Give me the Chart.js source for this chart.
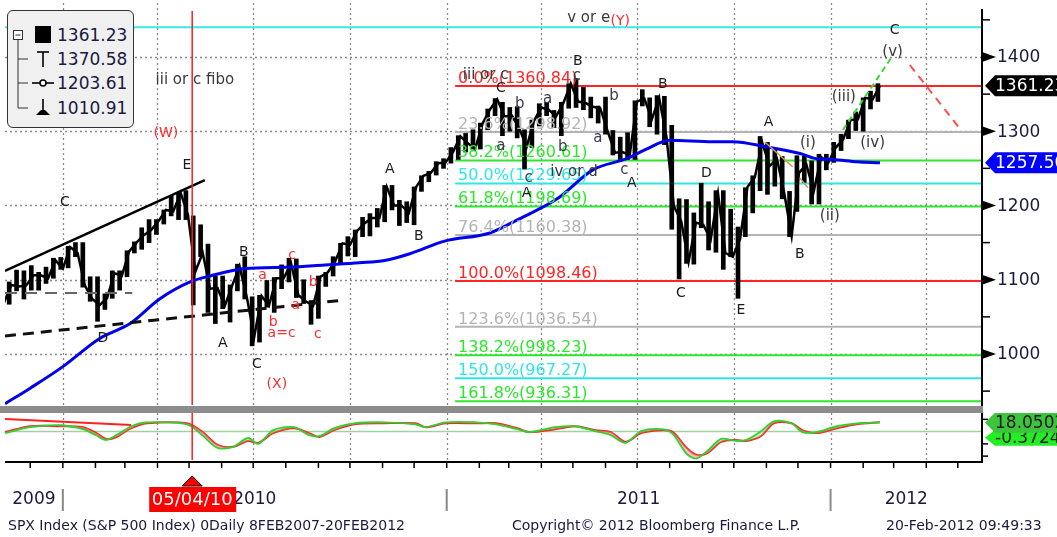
<!DOCTYPE html>
<html>
<head>
<meta charset="utf-8">
<script src="https://cdn.jsdelivr.net/npm/chart.js@4"></script>
<style>
body{margin:0;background:#fff;width:1057px;height:537px;overflow:hidden;position:relative;font-family:"DejaVu Sans",sans-serif;color:#1a1a40}
#top{position:absolute;left:0;top:0}
#bot{position:absolute;left:0;top:413px}
#band{position:absolute;left:0;top:406px;width:983px;height:7px;background:#8c8c8c}
.ft{position:absolute;top:517px;font-size:14px;line-height:16px;white-space:nowrap}
#legend{position:absolute;left:7px;top:10px;width:125px;height:116px;background:#f0f0f0;border:1.5px solid #333;border-radius:6px}
#legend span{position:absolute;left:49px;font-size:17px;line-height:20px}
</style>
</head>
<body>
<canvas id="top" width="1057" height="406"></canvas>
<div id="band"></div>
<canvas id="bot" width="1057" height="124"></canvas>

<div id="legend">
  <svg width="125" height="116" style="position:absolute;left:0;top:0">
    <g stroke="#333" stroke-width="1" fill="none">
      <rect x="5.5" y="19.5" width="9" height="9" fill="#fff"/>
      <line x1="7.5" y1="24" x2="12.5" y2="24"/>
      <line x1="10" y1="29" x2="10" y2="97"/>
      <line x1="10" y1="48" x2="20" y2="48"/>
      <line x1="10" y1="72" x2="20" y2="72"/>
      <line x1="10" y1="97" x2="20" y2="97"/>
    </g>
    <rect x="27" y="15" width="16" height="17" fill="#000"/>
    <g stroke="#000" stroke-width="1.6">
      <line x1="29" y1="41" x2="41" y2="41"/>
      <line x1="35" y1="41" x2="35" y2="56"/>
      <line x1="24" y1="72" x2="46" y2="72"/>
      <line x1="35" y1="88" x2="35" y2="101"/>
    </g>
    <circle cx="35" cy="72" r="3" fill="#fff" stroke="#000" stroke-width="1.5"/>
    <path d="M28 104 L42 104 L37 99 L33 99 Z" fill="#000"/>
  </svg>
  <span id="lg0" style="top:14px"></span>
  <span id="lg1" style="top:38px"></span>
  <span id="lg2" style="top:62px"></span>
  <span id="lg3" style="top:87px"></span>
</div>

<div class="ft" style="left:8px">SPX Index (S&amp;P 500 Index) 0Daily 8FEB2007-20FEB2012</div>
<div class="ft" style="left:512px">Copyright© 2012 Bloomberg Finance L.P.</div>
<div class="ft" style="left:886px">20-Feb-2012 09:49:33</div>

<script>
// weekly SPX, first week ending 6 Nov 2009, last 17 Feb 2012
const weekHigh = [
  1072,1097,1113,1112,1119,1110,1117,1129,1130,
  1145,1150,1150,1104,1104,1081,1112,1112,1139,1151,1170,1181,1181,1194,1213,1217,1220,1186,1174,1148,
  1105,1105,1093,1121,1131,1077,1079,1099,1103,1120,1129,1128,1100,1072,1105,1110,1131,1149,1158,1167,
  1184,1189,1196,1227,1227,1207,1205,1225,1240,1246,1259,1263,
  1278,1294,1297,1302,1311,1330,1344,1339,1332,1333,1302,1315,1337,1339,1328,1339,1364,1371,1359,1346,
  1334,1346,1301,1292,1298,1341,1356,1345,1348,1347,1308,1209,1208,1190,1230,1205,1220,1220,1195,1171,
  1224,1240,1293,1285,1277,1266,1219,1267,1267,1260,1269,1269,
  1285,1296,1315,1326,1345,1354,1364
];
const weekLow = [
  1029,1067,1085,1074,1086,1086,1095,1102,1114,
  1116,1131,1090,1071,1044,1060,1075,1086,1104,1136,1141,1150,1161,1175,1186,1181,1181,1066,1131,1056,
  1041,1061,1043,1085,1074,1011,1016,1063,1056,1088,1097,1076,1068,1040,1048,1091,1105,1122,1132,1131,
  1158,1159,1171,1178,1194,1173,1177,1174,1219,1232,1241,1250,
  1257,1262,1272,1276,1276,1302,1321,1294,1300,1291,1249,1278,1307,1321,1305,1294,1331,1332,1329,1318,
  1311,1296,1268,1262,1262,1262,1334,1306,1296,1282,1168,1101,1122,1121,1170,1140,1137,1114,1131,1075,
  1158,1190,1220,1215,1226,1209,1158,1192,1231,1202,1202,1248,
  1258,1274,1290,1301,1300,1330,1340
];
const weekClose = [
  1069,1093,1091,1092,1106,1106,1102,1126,1115,
  1144,1136,1092,1074,1066,1075,1109,1105,1138,1150,1160,1167,1179,1194,1192,1217,1187,1111,1136,1088,
  1089,1065,1092,1118,1076,1023,1078,1065,1102,1102,1122,1079,1071,1065,1104,1110,1125,1149,1147,1166,
  1176,1183,1183,1225,1200,1200,1190,1225,1240,1244,1257,1258,
  1272,1293,1284,1276,1310,1329,1343,1320,1321,1304,1279,1314,1332,1329,1320,1338,1364,1340,1338,1333,
  1331,1300,1271,1272,1268,1340,1344,1316,1345,1292,1199,1179,1124,1177,1174,1154,1216,1136,1131,1155,
  1225,1238,1285,1253,1263,1216,1159,1244,1255,1219,1265,1258,
  1278,1289,1315,1316,1345,1343,1361.23
];
const firstWeekEnd = '2009-11-06';

// 200 day moving average (days from 1 Jan 2010)
const maDays   = [-55,-31,0,35,64,92,121,140,173,216,249,282,306,330,363,406,434,470,504,536,555,577,618,637,669,701,717,732,755,777];
const maValues = [933,954,983,1021,1041,1074,1097,1105,1115,1117,1120,1123,1126,1135,1152,1163,1182,1209,1248,1263,1276,1288,1286,1286,1279,1270,1263,1262,1259,1257.5];

// fibonacci retracement
const fibPct    = ['0.0%','23.6%','38.2%','50.0%','61.8%','76.4%','100.0%','123.6%','138.2%','150.0%','161.8%'];
const fibLevels = [1360.84,1298.92,1260.61,1229.65,1198.69,1160.38,1098.46,1036.54,998.23,967.27,936.31];
const fibColors = ['#ff2424','#b4b4b4','#2ee62e','#2ee6e6','#2ee62e','#b4b4b4','#ff2424','#b4b4b4','#2ee62e','#2ee6e6','#2ee62e'];
const topLevel = 1440;

// oscillator panel
const oscDays   = [-55,-31,-2,19,32,41,51,65,80,118,133,147,162,176,186,200,220,234,244,258,277,306,335,345,364,393,412,432,444,468,487,506,521,535,550,569,580,593,602,612,626,640,650,664,676,693,703,717,736,755,777];
const oscFast   = [-3,9,13,5,-8,-17,-7,11,19,15,-8,-33,-31,-13,-25,3,9,-7,-9,7,17,19,15,9,19,19,15,5,-1,9,11,1,-7,-23,1,5,-5,-45,-55,-41,-15,-19,-17,1,21,17,-1,-1,11,17,19];
const oscSignal = [-1,11,11,9,-3,-15,-11,7,17,17,-1,-27,-31,-19,-23,-3,7,-3,-11,3,15,17,17,9,17,17,17,7,-1,5,11,3,-1,-21,-3,3,-1,-33,-47,-45,-21,-17,-19,-9,17,17,3,-3,7,15,19];
const oscLast = [18.0502, -0.3724];

const priceTicks = [1000,1100,1200,1300,1400];
const minorTicks = [950,1050,1150,1250,1350,1450];
const legendValues = ['1361.23','1370.58','1203.61','1010.91'];
const lastClose = 1361.23, lastMa = 1257.50;
const markerDate = '2010-05-04';
const quarterDates = ['2010-01-01','2010-04-01','2010-07-01','2010-10-01','2011-01-01','2011-04-01','2011-07-01','2011-10-01','2012-01-01','2012-04-01'];
const monthDates = ['2009-12-01','2010-01-01','2010-02-01','2010-03-01','2010-04-01','2010-05-01','2010-06-01','2010-07-01','2010-08-01','2010-09-01','2010-10-01','2010-11-01','2010-12-01',
  '2011-01-01','2011-02-01','2011-03-01','2011-04-01','2011-05-01','2011-06-01','2011-07-01','2011-08-01','2011-09-01','2011-10-01','2011-11-01','2011-12-01',
  '2012-01-01','2012-02-01','2012-03-01','2012-04-01','2012-05-01'];
const years = ['2009','2010','2011','2012'];

// wave labels [day, price, text]
const waveLabels = [
  [118,1254.5,'E'],[2,1204.7,'C'],[38,1021.5,'D'],[152,1014.8,'A'],[172,1137.4,'B'],[184.5,986.5,'C'],
  [311,1249,'A'],[338.5,1159,'B'],[416.5,1358,'C'],[489.7,1394.6,'B'],[570.5,1363.6,'B'],[441,1216.8,'A'],
  [541,1230.3,'A'],[612,1243.8,'D'],[587.6,1082,'C'],[644.7,1059.3,'E'],[671,1312.5,'A'],[700.8,1134.7,'B'],[791,1436.4,'C']
];
const subLabels = [
  [434.5,1336.7,'b'],[461,1343.4,'a'],[488.7,1374.4,'c'],[524,1347.5,'b'],[508.7,1291,'a'],
  [416.5,1280,'a'],[475.4,1278.8,'b'],[443,1237,'c'],[534,1247.8,'c']
];
const noteLabels = [
  [125.5,1369,'iii or c fibo'],[402,1375.8,'iii or c'],[500,1452.5,'v or e'],[486,1245,'iv or d'],
  [708.4,1284,'(i)'],[729.3,1186,'(ii)'],[742.6,1346,'(iii)'],[770,1284,'(iv)'],[789,1406.7,'(v)']
];
const redLabels = [
  [98,1297.6,'(W)'],[203.5,959.6,'(X)'],[530,1448.5,'(Y)'],[190,1106.4,'a'],[218,1133.3,'c'],
  [200,1043,'b'],[208,1028.3,'a=c'],[221.5,1066,'a'],[238,1097,'b'],[242.5,1027,'c']
];

// drawn lines [day, price]
const upperTrend = [[-55,1111.8],[135,1234.3]];
const lowerTrend = [[-55,1024.2],[268,1072.7]];
const shelfLine  = [[-55,1082],[66,1082]];
const projUp     = [[741.7,1301.7],[788.2,1400]];
const projDown   = [[805.4,1389.2],[854.8,1300.3]];
const minorTrend = [[667.5,1285.5],[694,1252],[697,null],[700.8,1237],[708.4,1224]];
const oscTrend   = [[-55,25.8],[65,13.5]];

const xMin = -55, xMax = 874, fibStart = 373;
const dayOf = s => (Date.parse(s) - Date.parse('2010-01-01')) / 864e5;
const pts = arr => arr.map(p => ({x: p[0], y: p[1]}));
const segment = (data, color, width, dash, order) => ({
  type: 'line', data: pts(data), borderColor: color, borderWidth: width,
  borderDash: dash || [], pointRadius: 0, order: order === undefined ? 0 : order
});

legendValues.forEach((v, i) => document.getElementById('lg' + i).textContent = v);

const weekDays = weekHigh.map((_, i) => dayOf(firstWeekEnd) + 7 * i);
const bars = weekDays.map((d, i) => ({x: d - 2, y: [weekLow[i], weekHigh[i]]}));
const closes = weekDays.map((d, i) => ({x: d, y: weekClose[i]}));

function line(ctx, x1, y1, x2, y2) { ctx.beginPath(); ctx.moveTo(x1, y1); ctx.lineTo(x2, y2); ctx.stroke(); }
function tag(ctx, tip, yc, h, fill, text, color) {
  ctx.fillStyle = fill;
  ctx.beginPath();
  ctx.moveTo(tip, yc); ctx.lineTo(tip + 10, yc - h / 2); ctx.lineTo(1060, yc - h / 2);
  ctx.lineTo(1060, yc + h / 2); ctx.lineTo(tip + 10, yc + h / 2); ctx.closePath(); ctx.fill();
  ctx.fillStyle = color; ctx.font = '17px "DejaVu Sans"'; ctx.textAlign = 'left'; ctx.textBaseline = 'middle';
  ctx.fillText(text, tip + 10, yc + 1);
}
function labels(ctx, x, y, list, color, font) {
  ctx.fillStyle = color; ctx.font = font; ctx.textAlign = 'center'; ctx.textBaseline = 'middle';
  list.forEach(([d, v, t]) => ctx.fillText(t, x.getPixelForValue(d), y.getPixelForValue(v)));
}

const topDecor = {
  id: 'topDecor',
  beforeDatasetsDraw(chart) {
    const {ctx, chartArea: a, scales: {x, y}} = chart;
    ctx.save();
    ctx.strokeStyle = '#8a8a8a'; ctx.lineWidth = 1.3; ctx.setLineDash([2, 3]);
    quarterDates.forEach(s => { const px = Math.round(x.getPixelForValue(dayOf(s))) + 0.5; line(ctx, px, a.top, px, a.bottom); });
    priceTicks.forEach(v => { const py = Math.round(y.getPixelForValue(v)) + 0.5; line(ctx, a.left, py, a.right, py); });
    ctx.restore();
  },
  afterDatasetsDraw(chart) {
    const {ctx, chartArea: a, scales: {x, y}} = chart;
    ctx.save();
    const mx = x.getPixelForValue(dayOf(markerDate));
    ctx.strokeStyle = '#ff1a1a'; ctx.lineWidth = 1.5; line(ctx, mx, a.top + 8, mx, a.bottom);

    ctx.font = '16px "DejaVu Sans"'; ctx.textAlign = 'left'; ctx.textBaseline = 'alphabetic';
    fibLevels.forEach((v, i) => {
      ctx.fillStyle = fibColors[i];
      ctx.fillText(fibPct[i] + '(' + v.toFixed(2) + ')', x.getPixelForValue(fibStart) + 3, y.getPixelForValue(v) - 3);
    });
    labels(ctx, x, y, noteLabels, '#3a3a3a', '15px "DejaVu Sans"');
    labels(ctx, x, y, subLabels, '#3a3a50', '15px "DejaVu Sans"');
    labels(ctx, x, y, waveLabels, '#1a1a1a', '14px "DejaVu Sans"');
    labels(ctx, x, y, redLabels, '#ff2a2a', '14px "DejaVu Sans"');

    // right axis
    ctx.strokeStyle = '#000'; ctx.lineWidth = 2; line(ctx, a.right, a.top + 6, a.right, a.bottom + 2);
    ctx.lineWidth = 1.5;
    minorTicks.forEach(v => { const py = y.getPixelForValue(v); line(ctx, a.right, py, a.right + 8, py); });
    ctx.font = '17px "DejaVu Sans"'; ctx.textAlign = 'left'; ctx.textBaseline = 'middle';
    priceTicks.forEach(v => {
      const py = y.getPixelForValue(v);
      ctx.fillStyle = '#000';
      ctx.beginPath(); ctx.moveTo(a.right, py - 5); ctx.lineTo(a.right + 14, py); ctx.lineTo(a.right, py + 5); ctx.closePath(); ctx.fill();
      ctx.fillStyle = '#1a1a40';
      ctx.fillText(String(v), a.right + 15, py + 1);
    });
    tag(ctx, a.right + 3, y.getPixelForValue(lastClose), 21, '#000', lastClose.toFixed(2), '#fff');
    tag(ctx, a.right + 3, y.getPixelForValue(lastMa), 21, '#0000ff', lastMa.toFixed(2), '#fff');
    ctx.restore();
  }
};

new Chart(document.getElementById('top'), {
  type: 'line',
  data: {
    datasets: [
      {type: 'bar', data: bars, backgroundColor: '#000', barThickness: 4, order: 2},
      {type: 'line', data: closes, borderColor: '#000', borderWidth: 2.5, pointRadius: 0, order: 2},
      {type: 'line', data: maDays.map((d, i) => ({x: d, y: maValues[i]})), borderColor: '#0000ee', borderWidth: 3,
       pointRadius: 0, cubicInterpolationMode: 'monotone', order: 1},
      ...fibLevels.map((v, i) => segment([[fibStart, v], [xMax, v]], fibColors[i], 2, null, 3)),
      segment([[xMin, topLevel], [xMax, topLevel]], '#3ee6e6', 2, null, 3),
      segment(upperTrend, '#000', 2.5),
      segment(lowerTrend, '#111', 3, [11, 7]),
      segment(shelfLine, '#666', 2, [12, 8]),
      segment(projUp, '#33dd33', 2, [6, 4]),
      segment(projDown, '#ff4a4a', 2, [8, 6]),
      segment(minorTrend, '#d09a50', 1.5)
    ]
  },
  options: {
    responsive: false, animation: false,
    layout: {padding: {left: 5, top: 3, bottom: 1, right: 75}},
    plugins: {legend: {display: false}, tooltip: {enabled: false}},
    scales: {
      x: {type: 'linear', min: xMin, max: xMax, display: false, offset: false},
      y: {min: 931.3, max: 1472.7, display: false}
    }
  },
  plugins: [topDecor]
});

const botDecor = {
  id: 'botDecor',
  beforeDatasetsDraw(chart) {
    const {ctx, chartArea: a, scales: {x}} = chart;
    ctx.save();
    ctx.strokeStyle = '#8a8a8a'; ctx.lineWidth = 1.3; ctx.setLineDash([2, 3]);
    quarterDates.forEach(s => { const px = Math.round(x.getPixelForValue(dayOf(s))) + 0.5; line(ctx, px, a.top, px, a.bottom); });
    ctx.restore();
  },
  afterDatasetsDraw(chart) {
    const {ctx, chartArea: a, scales: {x, y}} = chart;
    ctx.save();
    const mx = x.getPixelForValue(dayOf(markerDate));
    ctx.strokeStyle = '#ff1a1a'; ctx.lineWidth = 1.5; line(ctx, mx, a.top, mx, a.bottom - 2);

    ctx.strokeStyle = '#000'; ctx.lineWidth = 2;
    line(ctx, a.left, a.bottom, a.right + 1, a.bottom);
    line(ctx, a.right, a.top, a.right, a.bottom);
    ctx.lineWidth = 1.5;
    monthDates.forEach(s => { const px = x.getPixelForValue(dayOf(s)); line(ctx, px, a.bottom, px, a.bottom + 6); });
    [-50, -25, 25].forEach(v => { const py = y.getPixelForValue(v); line(ctx, a.right, py, a.right + 6, py); });

    // year labels and separators
    const ly = a.bottom + 38;
    ctx.font = '17px "DejaVu Sans"'; ctx.textAlign = 'center'; ctx.textBaseline = 'middle'; ctx.fillStyle = '#1a1a40';
    years.forEach((yr, i) => {
      const s = Math.max(xMin, dayOf(yr + '-01-01')), e = Math.min(xMax, dayOf((+yr + 1) + '-01-01'));
      ctx.fillText(yr, x.getPixelForValue((s + e) / 2), ly);
      if (i > 0) {
        const px = x.getPixelForValue(dayOf(yr + '-01-01'));
        ctx.strokeStyle = '#888'; ctx.lineWidth = 2; line(ctx, px, ly - 11, px, ly + 11);
      }
    });

    // date marker
    ctx.fillStyle = '#ff0000'; ctx.strokeStyle = '#000'; ctx.lineWidth = 1;
    ctx.beginPath(); ctx.moveTo(mx, a.bottom + 14); ctx.lineTo(mx + 10, a.bottom + 24); ctx.lineTo(mx - 10, a.bottom + 24); ctx.closePath();
    ctx.fill(); ctx.stroke();
    ctx.fillRect(mx - 43, a.bottom + 25, 87, 25);
    ctx.fillStyle = '#fff'; ctx.font = '18px "DejaVu Sans"';
    const d = new Date(markerDate);
    const txt = String(d.getUTCMonth() + 1).padStart(2, '0') + '/' + String(d.getUTCDate()).padStart(2, '0') + '/' + String(d.getUTCFullYear()).slice(2);
    ctx.fillText(txt, mx, a.bottom + 38);

    tag(ctx, a.right + 3, y.getPixelForValue(oscLast[1]) + 6, 16, '#22ee22', oscLast[1].toFixed(4), '#1a1a1a');
    tag(ctx, a.right + 3, y.getPixelForValue(oscLast[0]), 20, '#3cc43c', oscLast[0].toFixed(4), '#1a1a1a');
    ctx.restore();
  }
};

new Chart(document.getElementById('bot'), {
  type: 'line',
  data: {
    datasets: [
      {data: oscDays.map((d, i) => ({x: d, y: oscFast[i]})), borderColor: '#2fd02f', borderWidth: 1.8, pointRadius: 0, tension: 0.3,
       fill: {target: 1, above: 'rgba(120,220,120,0.45)', below: 'rgba(240,140,140,0.55)'}},
      {data: oscDays.map((d, i) => ({x: d, y: oscSignal[i]})), borderColor: '#ff2020', borderWidth: 2, pointRadius: 0, tension: 0.3},
      segment([[xMin, 0], [xMax, 0]], '#9ed29e', 1.5, null, 2),
      segment(oscTrend, '#ff2020', 2)
    ]
  },
  options: {
    responsive: false, animation: false,
    layout: {padding: {left: 5, top: 0, right: 75, bottom: 75}},
    plugins: {legend: {display: false}, tooltip: {enabled: false}},
    scales: {
      x: {type: 'linear', min: xMin, max: xMax, display: false},
      y: {min: -62, max: 38, display: false}
    }
  },
  plugins: [botDecor]
});
</script>
</body>
</html>
